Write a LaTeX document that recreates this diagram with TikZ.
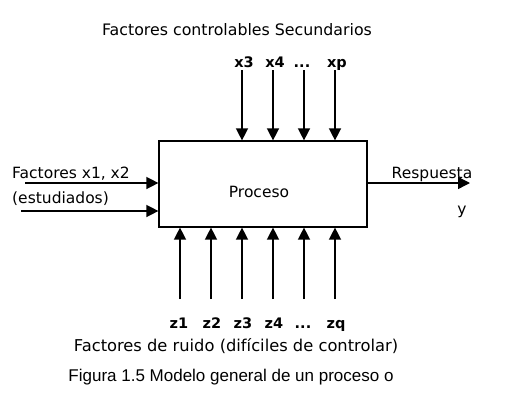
\documentclass[tikz,border=0pt]{standalone}
\usepackage{fontspec}
\setmainfont{DejaVu Sans}
\newfontfamily\capfont{Liberation Sans}
\usetikzlibrary{arrows.meta}
\begin{document}
\begin{tikzpicture}[x=1pt,y=-1pt,
  arr/.style={line width=1.4pt,-{Triangle[length=12pt,width=12pt]}},
  lbl/.style={inner sep=0pt,anchor=base,font=\fontsize{15.5}{18}\selectfont},
  vlbl/.style={inner sep=0pt,anchor=base,font=\bfseries\fontsize{14.5}{17}\selectfont},
  boxst/.style={draw,line width=1.2pt,inner sep=0pt}]
\useasboundingbox (0,0) rectangle (531,402);
\node[boxst,minimum width=208pt,minimum height=86pt] (proc) at (263,184) {};
\node[lbl] (proctxt) at (259,197) {Proceso};
\node[lbl,font=\fontsize{15.8}{18}\selectfont] (title) at (237,35) {Factores controlables Secundarios};
% top labels
\node[vlbl] (x3) at (244,67) {x3};
\node[vlbl] (x4) at (275,67) {x4};
\node[vlbl] (xd) at (302,67) {...};
\node[vlbl] (xp) at (337,67) {xp};
\foreach \n/\x in {t1/242,t2/273,t3/304,t4/335}{
  \coordinate (\n) at (\x,70);
  \draw[arr] (\n) -- (\n |- proc.north);
}
% bottom
\foreach \n/\x in {b1/180,b2/211,b3/242,b4/273,b5/304,b6/335}{
  \coordinate (\n) at (\x,299);
  \draw[arr] (\n) -- (\n |- proc.south);
}
\node[vlbl] (z1) at (179,328) {z1};
\node[vlbl] (z2) at (212,328) {z2};
\node[vlbl] (z3) at (243,328) {z3};
\node[vlbl] (z4) at (274,328) {z4};
\node[vlbl] (zd) at (303,328) {...};
\node[vlbl] (zq) at (336,328) {zq};
\node[lbl,font=\fontsize{16.3}{19}\selectfont] (ruido) at (236,351) {Factores de ruido (difíciles de controlar)};
% left
\coordinate (l1) at (25,183);
\coordinate (l2) at (21,211);
\draw[arr] (l1) -- (l1 -| proc.west);
\draw[arr] (l2) -- (l2 -| proc.west);
\node[lbl,anchor=base west] (fx) at (12,178) {Factores x1, x2};
\node[lbl,anchor=base west] (est) at (12,203) {(estudiados)};
% right
\coordinate (r1) at (470,183);
\draw[arr] (r1 -| proc.east) -- (r1);
\node[lbl] (resp) at (432,178) {Respuesta};
\node[lbl] (yy) at (462,214) {y};
% caption
\node[inner sep=0pt,anchor=base,font=\capfont\fontsize{17}{20}\selectfont] (cap) at (231,381) {Figura 1.5 Modelo general de un proceso o};
\end{tikzpicture}
\end{document}
